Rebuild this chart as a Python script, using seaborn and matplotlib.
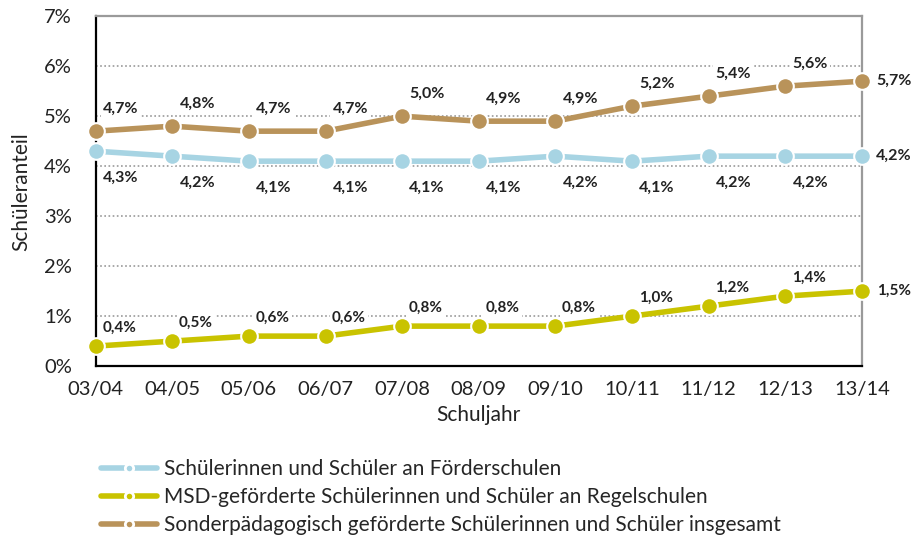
import matplotlib
matplotlib.use("Agg")
import matplotlib.pyplot as plt
from matplotlib.lines import Line2D
import seaborn as sns
import pandas as pd

years = ["03/04", "04/05", "05/06", "06/07", "07/08", "08/09",
         "09/10", "10/11", "11/12", "12/13", "13/14"]
foerderschulen = [4.3, 4.2, 4.1, 4.1, 4.1, 4.1, 4.2, 4.1, 4.2, 4.2, 4.2]
regelschulen = [0.4, 0.5, 0.6, 0.6, 0.8, 0.8, 0.8, 1.0, 1.2, 1.4, 1.5]
insgesamt = [4.7, 4.8, 4.7, 4.7, 5.0, 4.9, 4.9, 5.2, 5.4, 5.6, 5.7]

names = [
    "Schülerinnen und Schüler an Förderschulen",
    "MSD-geförderte Schülerinnen und Schüler an Regelschulen",
    "Sonderpädagogisch geförderte Schülerinnen und Schüler insgesamt",
]
colors = ["#a7d4e3", "#c9c300", "#b9935a"]
series = [foerderschulen, regelschulen, insgesamt]

sns.set_theme(style="white")
plt.rcParams["font.family"] = ["Lato", "DejaVu Sans"]

fig = plt.figure(figsize=(9.11, 5.4), dpi=100)
ax = fig.add_axes([0.105, 0.322, 0.841, 0.648])

for vals, name, col in zip(series, names, colors):
    df = pd.DataFrame({"x": range(len(years)), "y": vals})
    sns.lineplot(data=df, x="x", y="y", ax=ax, color=col, lw=4,
                 marker="o", markersize=12, markeredgecolor="white",
                 markeredgewidth=1.5, zorder=3, legend=False, clip_on=False)

# value labels: (dx, dy) offsets in points, last point placed to the right
label_cfg = [
    (foerderschulen, (18, -19), 11.5),
    (regelschulen, (17, 13), 11),
    (insgesamt, (18, 16), 11.5),
]
for vals, (dx, dy), fs in label_cfg:
    n = len(vals)
    for i, v in enumerate(vals):
        txt = f"{v:.1f}".replace(".", ",") + "%"
        if i == n - 1:
            off = (23, 0)
        else:
            off = (dx, dy)
        ax.annotate(txt, (i, v), xytext=off, textcoords="offset points",
                    ha="center", va="center", fontsize=fs, fontweight="bold",
                    color="#222222", zorder=4, annotation_clip=False,
                    bbox=dict(boxstyle="square,pad=0.15", fc="white", ec="none"))

ax.set_xlim(0, len(years) - 1)
ax.set_ylim(0, 7)
ax.set_xticks(range(len(years)))
ax.set_xticklabels(years)
ax.set_yticks(range(0, 8))
ax.set_yticklabels([f"{t}%" for t in range(0, 8)])
ax.tick_params(axis="both", length=0, labelsize=14.5, colors="#222222")
ax.tick_params(axis="x", pad=11)
ax.tick_params(axis="y", pad=17)

for t in range(1, 7):
    ax.axhline(t, color="#999999", lw=1.2, ls=(0, (1, 1.5)), zorder=1)

for s in ["left", "bottom"]:
    ax.spines[s].set_color("black")
    ax.spines[s].set_linewidth(1.6)
for s in ["top", "right"]:
    ax.spines[s].set_color("#9a9a9a")
    ax.spines[s].set_linewidth(1.6)

ax.set_xlabel("Schuljahr", fontsize=15, color="#222222", labelpad=5)
ax.set_ylabel("Schüleranteil", fontsize=15, color="#222222", labelpad=9)

handles = [Line2D([0], [0], color=c, lw=4, marker="o", markersize=6,
                  markeredgecolor="white", markeredgewidth=2)
           for c in colors]
fig.legend(handles, names, loc="upper left", bbox_to_anchor=(0.099, 0.169),
           frameon=False, fontsize=15, handlelength=2.7, handletextpad=0.35,
           labelspacing=0.38, borderpad=0)

fig.savefig("out.png", dpi=100)
